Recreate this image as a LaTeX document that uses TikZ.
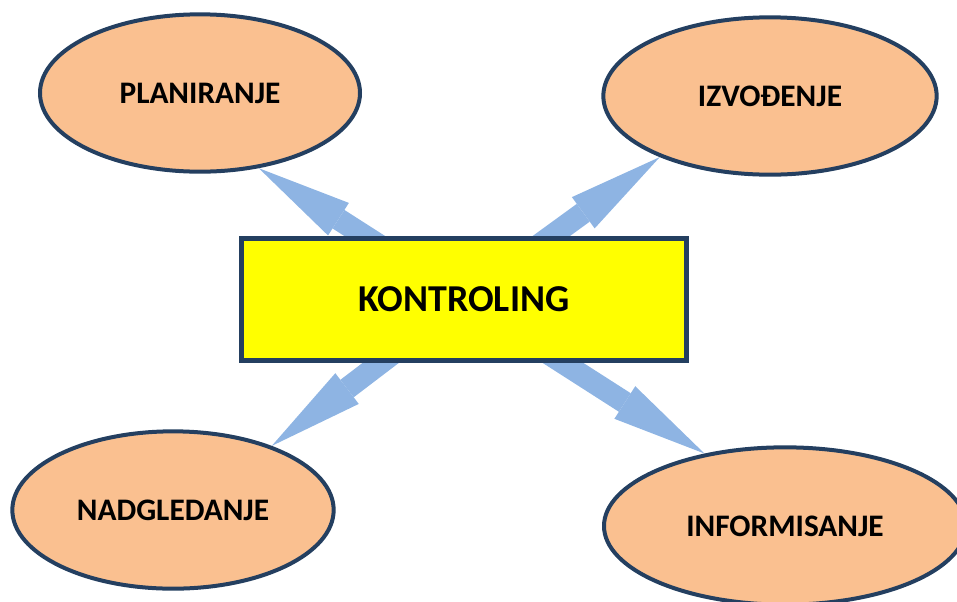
\documentclass[tikz,border=0pt]{standalone}
\usepackage{fontspec}
\setmainfont{Carlito}
\usetikzlibrary{arrows.meta,shapes.geometric,backgrounds}
\definecolor{navy}{HTML}{243F60}
\definecolor{peach}{HTML}{FAC090}
\definecolor{skyarrow}{HTML}{8EB4E3}
\definecolor{boxyellow}{RGB}{255,255,0}
\begin{document}
\begin{tikzpicture}[x=0.75pt,y=-0.75pt,
  phase/.style={ellipse,draw=navy,line width=3pt,fill=peach,inner sep=0pt,minimum height=118pt,font=\bfseries\fontsize{23.5}{28}\selectfont},
  core/.style={rectangle,draw=navy,line width=3.75pt,fill=boxyellow,minimum width=333.75pt,minimum height=91.5pt,font=\bfseries\fontsize{28.5}{34}\selectfont},
  flow/.style={draw=skyarrow,line width=16.5pt,-{Triangle[length=71pt,width=29pt,line width=0pt]}}]
  \useasboundingbox (0,0) rectangle (957,601);
  \clip (0,0) rectangle (957,601);
  \node[core] (kontroling) at (464,299.5) {KONTROLING};
  \node[phase,minimum width=240pt] (planiranje) at (200,93) {PLANIRANJE};
  \node[phase,minimum width=250pt] (izvodjenje) at (770,96) {IZVOĐENJE};
  \node[phase,minimum width=241pt] (nadgledanje) at (173,510) {NADGLEDANJE\hspace{13.5pt}};
  \node[phase,minimum width=271.5pt] (informisanje) at (785,526) {INFORMISANJE};
  % block arrows behind the shapes
  \begin{scope}[on background layer]
    \foreach \n/\a in {planiranje/-52,izvodjenje/-151,nadgledanje/33,informisanje/138}
      \draw[flow] (kontroling.center) -- (\n.\a);
  \end{scope}
\end{tikzpicture}
\end{document}
